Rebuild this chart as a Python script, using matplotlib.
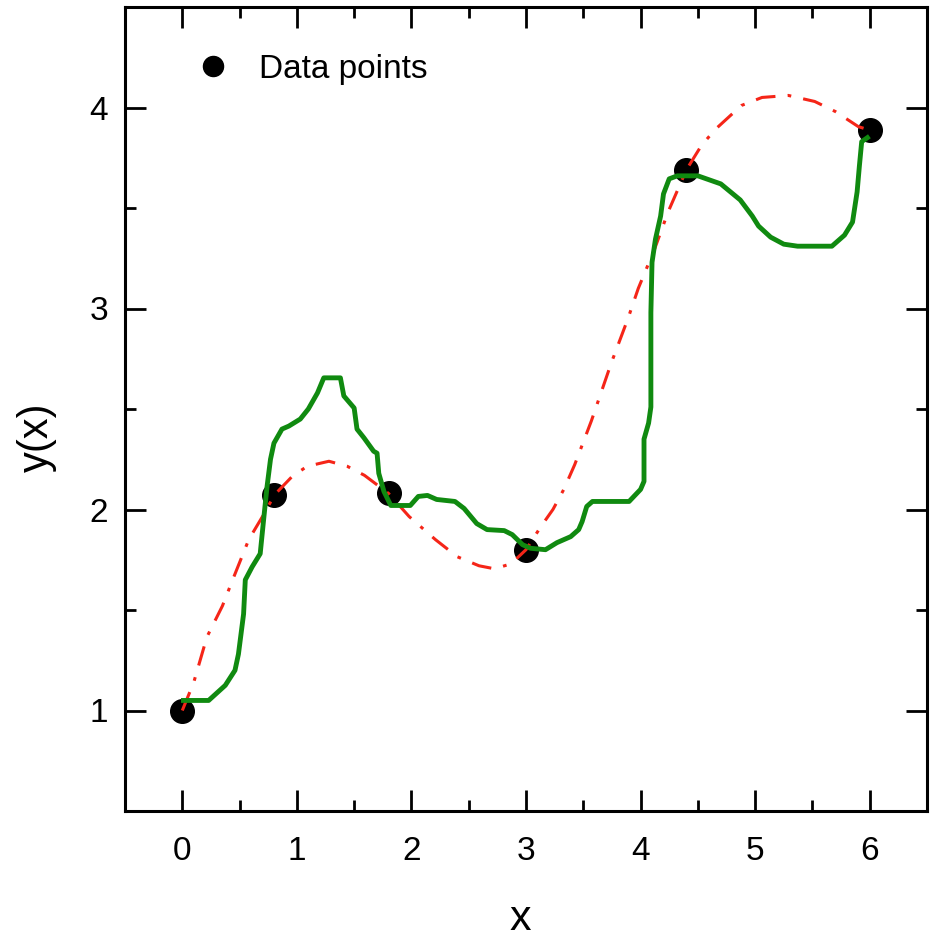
import matplotlib
matplotlib.use("Agg")
import matplotlib.pyplot as plt
from matplotlib.ticker import MultipleLocator

plt.rcParams['font.family'] = ['Liberation Sans', 'DejaVu Sans']

# Data points
pts_x = [0.0, 0.8, 1.8, 3.0, 4.4, 6.0]
pts_y = [1.0, 2.07, 2.08, 1.80, 3.69, 3.89]

# Red dash-dot smooth curve
red_x = [0.0, 0.10, 0.215, 0.35, 0.45, 0.58, 0.70, 0.805, 0.96, 1.09, 1.28, 1.44, 1.59,
         1.80, 1.98, 2.08, 2.21, 2.40, 2.59, 2.725, 2.87, 3.0, 3.13, 3.235, 3.33, 3.425,
         3.57, 3.745, 3.89, 3.98, 4.125, 4.24, 4.40, 4.53, 4.65, 4.88, 5.06, 5.29, 5.52,
         5.70, 5.90, 6.0]
red_y = [1.0, 1.14, 1.366, 1.52, 1.665, 1.85, 1.965, 2.073, 2.165, 2.215, 2.24, 2.215, 2.17,
         2.08, 1.965, 1.915, 1.85, 1.765, 1.72, 1.705, 1.73, 1.80, 1.915, 2.0, 2.10, 2.223,
         2.44, 2.73, 2.95, 3.10, 3.30, 3.48, 3.69, 3.81, 3.89, 4.01, 4.05, 4.06, 4.03,
         3.98, 3.905, 3.887]

# Green curve
green_x = [0.01, 0.23, 0.375, 0.46, 0.49, 0.535, 0.55, 0.61, 0.68, 0.71, 0.74, 0.77, 0.80,
           0.87, 0.93, 1.03, 1.10, 1.18, 1.235, 1.38, 1.41, 1.50, 1.525, 1.585, 1.67, 1.70,
           1.715, 1.76, 1.82, 1.99, 2.06, 2.14, 2.22, 2.38, 2.46, 2.57, 2.66, 2.81, 2.88,
           2.97, 3.04, 3.17, 3.27, 3.39, 3.46, 3.49, 3.53, 3.58, 3.90, 4.0, 4.03, 4.03,
           4.07, 4.09, 4.09, 4.10, 4.13, 4.175, 4.20, 4.25, 4.32, 4.50, 4.70, 4.87, 4.975,
           5.03, 5.135, 5.25, 5.37, 5.67, 5.78, 5.85, 5.89, 5.91, 5.93, 5.98]
green_y = [1.05, 1.05, 1.125, 1.2, 1.28, 1.48, 1.65, 1.715, 1.78, 1.95, 2.115, 2.25, 2.33,
           2.40, 2.415, 2.45, 2.50, 2.58, 2.655, 2.655, 2.565, 2.505, 2.40, 2.357, 2.29, 2.28,
           2.18, 2.09, 2.02, 2.02, 2.065, 2.07, 2.05, 2.04, 2.005, 1.93, 1.90, 1.895, 1.875,
           1.825, 1.807, 1.80, 1.835, 1.865, 1.90, 1.94, 2.015, 2.04, 2.04, 2.10, 2.14, 2.35,
           2.43, 2.51, 2.98, 3.23, 3.345, 3.46, 3.57, 3.645, 3.66, 3.66, 3.62, 3.54, 3.46,
           3.41, 3.355, 3.32, 3.31, 3.31, 3.365, 3.43, 3.58, 3.71, 3.83, 3.85]

x_ticks = [0, 1, 2, 3, 4, 5, 6]
y_ticks = [1, 2, 3, 4]

fig = plt.figure(figsize=(9.31, 9.42), dpi=100)
ax = fig.add_axes([125/931, 1 - 811/942, (927-125)/931, (811-7)/942])

ax.plot(pts_x, pts_y, 'o', color='black', markersize=17, zorder=2, label='Data points')
ax.plot(red_x, red_y, color='#f52518', lw=2.2, dashes=(6.5, 4, 1.2, 4), zorder=3)
ax.plot(green_x, green_y, color='#108a10', lw=3.5, zorder=4, solid_joinstyle='round')

ax.set_xlim(-0.5, 6.5)
ax.set_ylim(0.5, 4.5)
ax.set_xticks(x_ticks)
ax.set_yticks(y_ticks)
ax.xaxis.set_minor_locator(MultipleLocator(0.5))
ax.yaxis.set_minor_locator(MultipleLocator(0.5))
ax.tick_params(which='both', direction='in', top=True, right=True, width=2, labelsize=24)
ax.tick_params(which='major', length=15)
ax.tick_params(which='minor', length=8)
ax.tick_params(axis='x', which='major', pad=18)
ax.tick_params(axis='y', which='major', pad=12)
for s in ax.spines.values():
    s.set_linewidth(2.2)

ax.set_xlabel('x', fontsize=31)
ax.xaxis.set_label_coords(0.493, -0.109)
ax.set_ylabel('y(x)', fontsize=30)
ax.yaxis.set_label_coords(-0.085, 0.465)

leg = ax.legend(loc='upper left', frameon=False, fontsize=24, markerscale=0.85,
                handlelength=1.0, handletextpad=0.9, borderaxespad=0.0,
                bbox_to_anchor=(0.072, 0.958))

fig.savefig('out.png', dpi=100)
